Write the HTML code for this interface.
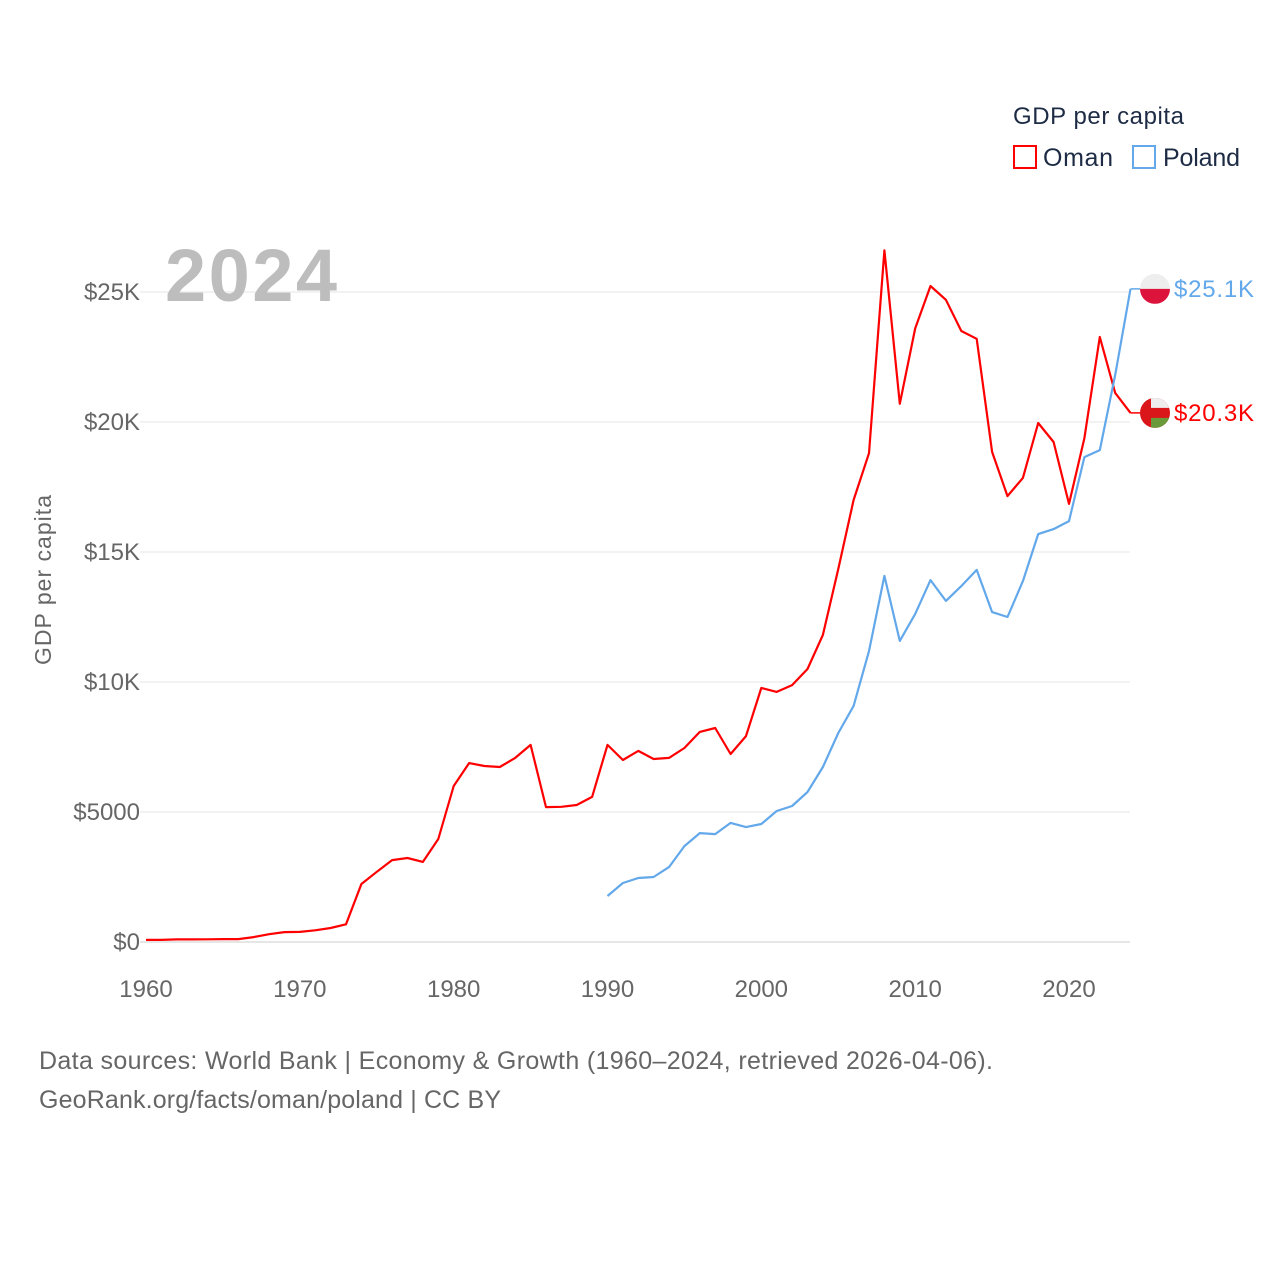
<!DOCTYPE html>
<html><head><meta charset="utf-8"><style>
body{margin:0;background:#fff;}
svg{display:block;font-family:"Liberation Sans",sans-serif;}
</style></head><body>
<svg width="1280" height="1280" viewBox="0 0 1280 1280" id="chart">
<rect width="1280" height="1280" fill="#fff"/>
<g id="grid"></g>
<g id="yticks"></g>
<g id="xticks"></g>
<text x="165" y="301" font-size="74" font-weight="bold" fill="#bdbdbd" textLength="172">2024</text>
<text transform="translate(51,580) rotate(-90)" text-anchor="middle" font-size="23" fill="#666" textLength="170">GDP per capita</text>
<g id="series"></g>
<g>
<text x="1013" y="124" font-size="24" fill="#1d2b45" textLength="171">GDP per capita</text>
<g><rect x="1014" y="146" width="22" height="22" fill="none" stroke="#ff0000" stroke-width="2"/><text x="1043" y="166" font-size="25" fill="#1d2b45" textLength="70">Oman</text></g>
<g><rect x="1133" y="146" width="22" height="22" fill="none" stroke="#62a8ea" stroke-width="2"/><text x="1163" y="166" font-size="25" fill="#1d2b45" textLength="77">Poland</text></g>
</g>
<text x="39" y="1069" font-size="25" fill="#666" textLength="954">Data sources: World Bank | Economy &amp; Growth (1960–2024, retrieved 2026-04-06).</text>
<text x="39" y="1108" font-size="25" fill="#666" textLength="462">GeoRank.org/facts/oman/poland | CC BY</text>
</svg>
<script>
const years=[];for(let y=1960;y<=2024;y++)years.push(y);
const omanValues=[80,80,100,100,105,110,110,190,300,380,390,450,540,680,2230,2700,3150,3230,3080,3960,6000,6880,6770,6730,7080,7580,5190,5200,5270,5580,7580,7000,7350,7040,7080,7460,8080,8230,7230,7920,9770,9620,9880,10500,11810,14350,17000,18800,26600,20700,23600,25230,24700,23500,23200,18850,17150,17850,19960,19230,16850,19380,23270,21120,20350];
const polandYears=[];for(let y=1990;y<=2024;y++)polandYears.push(y);
const polandValues=[1770,2270,2460,2500,2880,3690,4190,4150,4580,4420,4540,5040,5230,5770,6730,8040,9080,11190,14080,11580,12620,13920,13120,13690,14310,12690,12500,13880,15690,15880,16190,18650,18920,21810,25120];
const yTickValues=[0,5000,10000,15000,20000,25000];
const yTickLabels=["$0","$5000","$10K","$15K","$20K","$25K"];
const xTickValues=[1960,1970,1980,1990,2000,2010,2020];
const NS="http://www.w3.org/2000/svg";
const X=y=>146+(y-1960)*(1069-146)/60;
const Y=v=>942-v*(942-292)/25000;
function mk(t,a,p){const e=document.createElementNS(NS,t);for(const k in a)e.setAttribute(k,a[k]);p.appendChild(e);return e;}
const grid=document.getElementById('grid'),yt=document.getElementById('yticks'),xt=document.getElementById('xticks'),ser=document.getElementById('series');
yTickValues.forEach((v,i)=>{
 const l=mk('line',{x1:140,x2:1130,y1:Y(v),y2:Y(v),stroke:i==0?'#ccc':'#e6e6e6','stroke-width':1},grid);
 
 
 const t=mk('text',{x:140,y:Y(v)+8,'text-anchor':'end','font-size':24,fill:'#666'},yt);
 t.textContent=yTickLabels[i];
 
 
});
xTickValues.forEach(v=>{
 const t=mk('text',{x:X(v),y:997,'text-anchor':'middle','font-size':24,fill:'#666'},xt);
 t.textContent=v;
 
 
});
function line(xs,vs,c,name){
 const d=xs.map((y,i)=>(i?'L':'M')+X(y).toFixed(1)+','+Y(vs[i]).toFixed(1)).join('');
 const p=mk('path',{d:d,fill:'none',stroke:c,'stroke-width':2.2,'stroke-linejoin':'round'},ser);
 
 
}
line(years,omanValues,'#ff0000','oman-line');
line(polandYears,polandValues,'#62a8ea','poland-line');
function endMark(v,c,name,label,flag){
 const y=Y(v),x0=X(2024);
 mk('line',{x1:x0,x2:1141,y1:y,y2:y,stroke:c,'stroke-width':1.5},ser);
 const g=mk('g',{},ser);
 
 
 const cx=1155;
 mk('clipPath',{id:'cp'+name},g);
 mk('circle',{cx:cx,cy:y,r:15},g.lastChild);
 const f=mk('g',{'clip-path':'url(#cp'+name+')'},g);
 if(flag==='pl'){mk('rect',{x:cx-15,y:y-15,width:30,height:15,fill:'#eee'},f);mk('rect',{x:cx-15,y:y,width:30,height:15,fill:'#dc143c'},f);}
 else{mk('rect',{x:cx-15,y:y-15,width:30,height:30,fill:'#db161b'},f);mk('rect',{x:cx-4,y:y-15,width:19,height:10,fill:'#eee'},f);mk('rect',{x:cx-4,y:y+5,width:19,height:10,fill:'#6a9a3a'},f);}
 const t=mk('text',{x:1174,y:y+8,'font-size':24,fill:c,textLength:80},g);
 t.textContent=label;
}
endMark(polandValues[polandValues.length-1],'#62a8ea','poland-end-label','$25.1K','pl');
endMark(omanValues[omanValues.length-1],'#ff0000','oman-end-label','$20.3K','om');
</script>
</body></html>
